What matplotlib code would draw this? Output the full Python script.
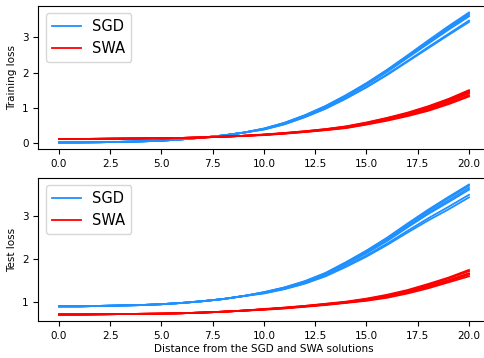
import matplotlib
matplotlib.use("Agg")
import matplotlib.pyplot as plt

# distance grid
x = list(range(0, 21))

# values for x = 0..9 (curves coincide there) and x = 10..20 (curves spread)
sgd_train_head = [0.01, 0.012, 0.018, 0.028, 0.042, 0.062, 0.10, 0.15, 0.21, 0.29]
sgd_train_tails = [
    [0.41, 0.57, 0.79, 1.05, 1.36, 1.70, 2.08, 2.49, 2.91, 3.32, 3.71],
    [0.40, 0.57, 0.78, 1.04, 1.34, 1.69, 2.06, 2.46, 2.88, 3.28, 3.68],
    [0.40, 0.56, 0.77, 1.03, 1.33, 1.67, 2.04, 2.44, 2.85, 3.25, 3.64],
    [0.40, 0.55, 0.76, 1.02, 1.32, 1.65, 2.02, 2.42, 2.82, 3.22, 3.60],
    [0.38, 0.53, 0.74, 0.98, 1.27, 1.59, 1.95, 2.33, 2.72, 3.10, 3.48],
    [0.38, 0.53, 0.73, 0.97, 1.26, 1.58, 1.93, 2.31, 2.69, 3.07, 3.44],
]
swa_train_head = [0.11, 0.11, 0.115, 0.12, 0.125, 0.13, 0.14, 0.155, 0.175, 0.20]
swa_train_tails = [
    [0.24, 0.28, 0.33, 0.39, 0.47, 0.58, 0.71, 0.86, 1.04, 1.25, 1.50],
    [0.23, 0.28, 0.33, 0.39, 0.46, 0.57, 0.70, 0.84, 1.02, 1.23, 1.47],
    [0.23, 0.27, 0.32, 0.38, 0.45, 0.56, 0.68, 0.82, 0.99, 1.20, 1.44],
    [0.23, 0.27, 0.32, 0.37, 0.44, 0.55, 0.67, 0.80, 0.97, 1.17, 1.41],
    [0.23, 0.27, 0.31, 0.37, 0.43, 0.53, 0.65, 0.78, 0.94, 1.13, 1.36],
    [0.22, 0.26, 0.31, 0.36, 0.42, 0.52, 0.63, 0.76, 0.91, 1.10, 1.32],
]
sgd_test_head = [0.90, 0.90, 0.91, 0.92, 0.93, 0.95, 0.98, 1.02, 1.07, 1.14]
sgd_test_tails = [
    [1.23, 1.34, 1.49, 1.68, 1.93, 2.20, 2.50, 2.83, 3.15, 3.45, 3.74],
    [1.23, 1.34, 1.48, 1.67, 1.92, 2.19, 2.48, 2.81, 3.12, 3.42, 3.71],
    [1.22, 1.33, 1.47, 1.66, 1.90, 2.16, 2.45, 2.77, 3.08, 3.37, 3.66],
    [1.22, 1.32, 1.46, 1.65, 1.88, 2.14, 2.42, 2.74, 3.05, 3.33, 3.62],
    [1.21, 1.31, 1.44, 1.62, 1.84, 2.09, 2.36, 2.66, 2.95, 3.22, 3.50],
    [1.20, 1.30, 1.43, 1.60, 1.82, 2.06, 2.33, 2.62, 2.90, 3.16, 3.44],
]
swa_test_head = [0.71, 0.71, 0.715, 0.72, 0.725, 0.73, 0.74, 0.755, 0.775, 0.80]
swa_test_tails = [
    [0.84, 0.87, 0.91, 0.96, 1.01, 1.08, 1.17, 1.28, 1.42, 1.57, 1.75],
    [0.83, 0.87, 0.91, 0.955, 1.00, 1.07, 1.15, 1.26, 1.40, 1.55, 1.72],
    [0.83, 0.86, 0.90, 0.945, 0.99, 1.05, 1.13, 1.24, 1.37, 1.51, 1.67],
    [0.83, 0.86, 0.90, 0.94, 0.99, 1.04, 1.12, 1.22, 1.35, 1.49, 1.64],
    [0.82, 0.85, 0.89, 0.93, 0.98, 1.03, 1.10, 1.20, 1.32, 1.46, 1.60],
    [0.83, 0.86, 0.90, 0.945, 0.99, 1.05, 1.12, 1.23, 1.36, 1.50, 1.66],
]

xticks = [0.0, 2.5, 5.0, 7.5, 10.0, 12.5, 15.0, 17.5, 20.0]
top_yticks = [0, 1, 2, 3]
bot_yticks = [1, 2, 3]
ylabels = ["Training loss", "Test loss"]
xlabel = "Distance from the SGD and SWA solutions"
series_names = ["SGD", "SWA"]

W, H = 485, 358
fig = plt.figure(figsize=(W / 100, H / 100), dpi=100)
left = 38.5 / W
width = 451 / W
ax1 = fig.add_axes([left, 1 - 149 / H, width, 143 / H])
ax2 = fig.add_axes([left, 1 - 321 / H, width, 143 / H])

blue = "#1E90FF"
red = "#FF0000"

panels = [
    (ax1, sgd_train_head, sgd_train_tails, swa_train_head, swa_train_tails, ylabels[0], top_yticks),
    (ax2, sgd_test_head, sgd_test_tails, swa_test_head, swa_test_tails, ylabels[1], bot_yticks),
]
for ax, sh, st, wh, wt, yl, yt in panels:
    for i, tail in enumerate(st):
        ax.plot(x, sh + tail, color=blue, lw=1.3, label=series_names[0] if i == 0 else None)
    for i, tail in enumerate(wt):
        ax.plot(x, wh + tail, color=red, lw=1.3, label=series_names[1] if i == 0 else None)
    ax.set_xticks(xticks)
    ax.set_yticks(yt)
    ax.tick_params(labelsize=7.5)
    ax.set_ylabel(yl, fontsize=7.5)
    ax.legend(loc="upper left", fontsize=10.5, handlelength=2.0)

ax2.set_xlabel(xlabel, fontsize=7.5, labelpad=2)

fig.savefig("out.png", dpi=100)
